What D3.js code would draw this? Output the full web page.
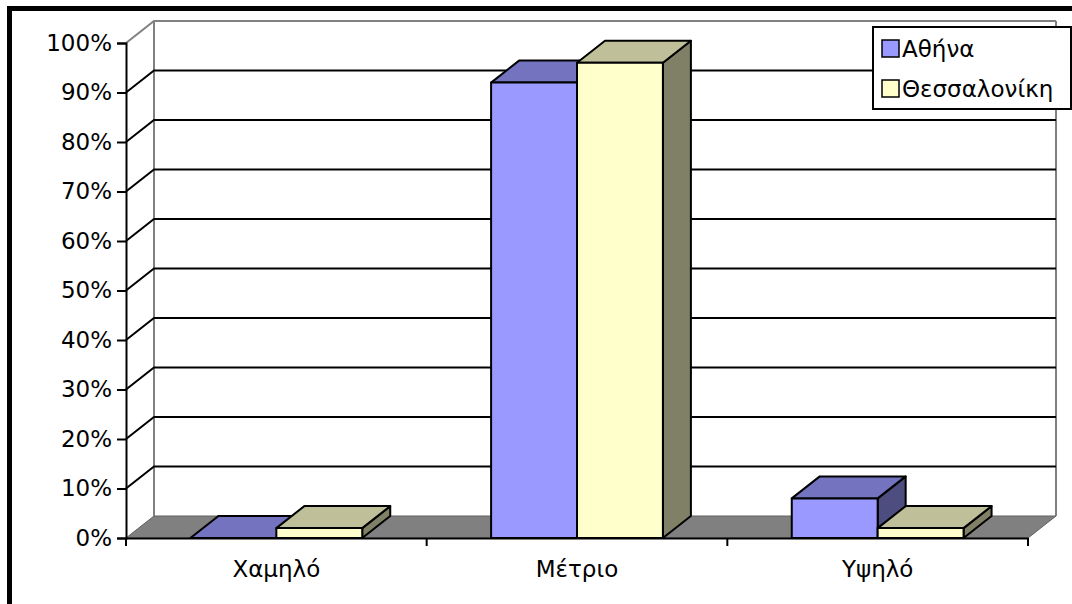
<!DOCTYPE html>
<html>
<head>
<meta charset="utf-8">
<script src="https://cdn.jsdelivr.net/npm/d3@7"></script>
<style>
  body { margin: 0; background: #fff; }
  text { font-family: "DejaVu Sans", sans-serif; fill: #000; }
</style>
</head>
<body>
<div id="chart"></div>
<script>
// data
var categories = ["Χαμηλό", "Μέτριο", "Υψηλό"];
var seriesNames = ["Αθήνα", "Θεσσαλονίκη"];
var athens = [0, 92, 8];
var thessaloniki = [2, 96, 2];
var yTicks = [0, 10, 20, 30, 40, 50, 60, 70, 80, 90, 100];

// face colours: front, top, side
var frontColors = ["#9999FF", "#FFFFCC"];
var topColors = ["#7373BF", "#BFBF99"];
var sideColors = ["#4D4D80", "#808066"];

var W = 1072, H = 604;
var plotLeft = 126, plotRight = 1028, plotBottom = 538, plotTop = 43;
var dx = 28, dy = 22;   // depth offset of the 3d box
var fontSize = 23;

var svg = d3.select("#chart")
  .append("svg")
    .attr("width", W)
    .attr("height", H);

var x = d3.scaleBand()
  .domain(categories)
  .range([plotLeft, plotRight])
  .padding(0);

var xs = d3.scaleBand()
  .domain(seriesNames)
  .range([0, x.bandwidth()])
  .paddingInner(0)
  .paddingOuter(0.75);

var y = d3.scaleLinear()
  .domain([0, 100])
  .range([plotBottom, plotTop]);

function pts(a) { return a.map(function(p) { return p.join(","); }).join(" "); }

// outer chart border
svg.append("rect")
  .attr("x", 9.5).attr("y", 8.5)
  .attr("width", W + 20).attr("height", H + 20)
  .attr("fill", "none")
  .attr("stroke", "#000")
  .attr("stroke-width", 5);

// left wall edge + back wall edges
svg.append("line")
  .attr("x1", plotLeft + dx).attr("y1", y(100) - dy)
  .attr("x2", plotLeft + dx).attr("y2", y(0) - dy)
  .attr("stroke", "#808080").attr("stroke-width", 2);
svg.append("line")
  .attr("x1", plotRight + dx).attr("y1", y(100) - dy)
  .attr("x2", plotRight + dx).attr("y2", y(0) - dy)
  .attr("stroke", "#808080").attr("stroke-width", 2);

// gridlines on left wall and back wall
yTicks.forEach(function(t) {
  if (t === 0) return;
  var col = t === 100 ? "#808080" : "#000";
  svg.append("polyline")
    .attr("points", pts([[plotLeft, y(t)], [plotLeft + dx, y(t) - dy], [plotRight + dx, y(t) - dy]]))
    .attr("fill", "none")
    .attr("stroke", col)
    .attr("stroke-width", 2);
});

// floor
svg.append("polygon")
  .attr("points", pts([[plotLeft, y(0)], [plotLeft + dx, y(0) - dy], [plotRight + dx, y(0) - dy], [plotRight, y(0)]]))
  .attr("fill", "#808080")
  .attr("stroke", "#606060")
  .attr("stroke-width", 1);

// bars, left to right so each one covers the side of the one before
var bars = [];
categories.forEach(function(c, i) {
  bars.push({cat: c, s: 0, v: athens[i]});
  bars.push({cat: c, s: 1, v: thessaloniki[i]});
});

bars.forEach(function(d) {
  var x0 = x(d.cat) + xs(seriesNames[d.s]);
  var w = xs.bandwidth();
  var yt = y(d.v), yb = y(0);
  var g = svg.append("g")
    .attr("stroke", "#000")
    .attr("stroke-width", 2)
    .attr("stroke-linejoin", "round");
  g.append("polygon")
    .attr("points", pts([[x0 + w, yb], [x0 + w + dx, yb - dy], [x0 + w + dx, yt - dy], [x0 + w, yt]]))
    .attr("fill", sideColors[d.s]);
  g.append("polygon")
    .attr("points", pts([[x0, yt], [x0 + dx, yt - dy], [x0 + w + dx, yt - dy], [x0 + w, yt]]))
    .attr("fill", topColors[d.s]);
  if (d.v > 0) {
    g.append("rect")
      .attr("x", x0).attr("y", yt)
      .attr("width", w).attr("height", yb - yt)
      .attr("fill", frontColors[d.s]);
  }
});

// y axis
var axisY = svg.append("g")
  .attr("transform", "translate(" + plotLeft + ",0)")
  .call(d3.axisLeft(y).tickValues(yTicks).tickSize(9).tickPadding(5)
    .tickFormat(function(d) { return d + "%"; }));
axisY.select(".domain").attr("stroke", "#000").attr("stroke-width", 2);
axisY.selectAll(".tick line").attr("stroke", "#000").attr("stroke-width", 2);
axisY.selectAll(".tick text")
  .attr("font-size", fontSize)
  .attr("font-family", "DejaVu Sans, sans-serif")
  .attr("fill", "#000");

// x axis
var axisX = svg.append("g")
  .attr("transform", "translate(0," + plotBottom + ")")
  .call(d3.axisBottom(x).tickSize(0).tickPadding(23));
axisX.select(".domain").attr("stroke", "#000").attr("stroke-width", 2);
axisX.selectAll(".tick text")
  .attr("font-size", fontSize)
  .attr("font-family", "DejaVu Sans, sans-serif")
  .attr("fill", "#000");
// category divider ticks
var edges = categories.map(function(c) { return x(c); }).concat([plotRight]);
svg.selectAll(".xdiv")
  .data(edges)
  .enter().append("line")
    .attr("x1", function(d) { return d; })
    .attr("x2", function(d) { return d; })
    .attr("y1", plotBottom)
    .attr("y2", plotBottom + 8)
    .attr("stroke", "#000")
    .attr("stroke-width", 2);

// legend
var legend = svg.append("g").attr("transform", "translate(873,27)");
legend.append("rect")
  .attr("width", 198).attr("height", 82)
  .attr("fill", "#fff")
  .attr("stroke", "#000")
  .attr("stroke-width", 2);
seriesNames.forEach(function(n, i) {
  legend.append("rect")
    .attr("x", 9).attr("y", 13 + i * 40)
    .attr("width", 17).attr("height", 17)
    .attr("fill", frontColors[i])
    .attr("stroke", "#000")
    .attr("stroke-width", 1.5);
  legend.append("text")
    .attr("x", 29).attr("y", 30 + i * 40)
    .attr("font-size", fontSize)
    .text(n);
});
</script>
</body>
</html>
